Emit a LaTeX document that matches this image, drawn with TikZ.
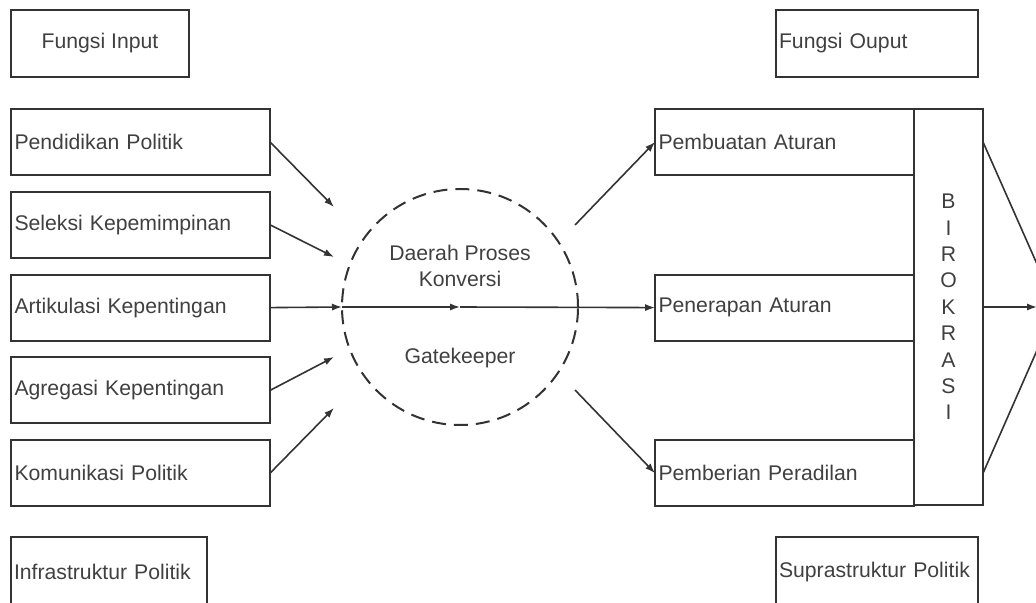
\documentclass[tikz,border=0pt]{standalone}
\usepackage{fontspec}
\setmainfont{Liberation Sans}
\usetikzlibrary{positioning,shapes.geometric,arrows.meta,calc}

\begin{document}
\begin{tikzpicture}[
	x=0.5pt, y=-0.5pt,
	every node/.style={outer sep=0pt, font=\fontsize{10.6}{13}\selectfont, text=black!75},
	item/.style={rectangle, draw=black!80, line width=1pt, text width=126pt,
		inner xsep=1.75pt, align=left, minimum height=33pt},
	head/.style={rectangle, draw=black!80, line width=1pt, minimum height=33.5pt},
	gate/.style={circle, draw=black!80, line width=1pt, dash pattern=on 7pt off 4pt,
		minimum size=118pt},
	arrow/.style={-{Latex[length=5pt,width=3.6pt]}, line width=0.8pt, draw=black!80},
	line/.style={line width=0.8pt, draw=black!80}
	]
	\useasboundingbox (0,0) rectangle (1036,603);
	% header boxes
	\node[head, minimum width=89pt, anchor=north west] (fin) at (11,10) {Fungsi Input};
	\node[head, text width=98pt, inner xsep=1.5pt, align=left, anchor=north west] (fout) at (776,10) {Fungsi Ouput};
	\node[head, text width=95pt, inner xsep=1.5pt, align=left, anchor=north west, minimum height=35pt] (infra) at (11,537) {Infrastruktur Politik};
	\node[head, text width=98pt, inner xsep=1.5pt, align=left, anchor=north west, minimum height=35pt] (supra) at (776,537) {Suprastruktur Politik};
	% input functions
	\node[item, anchor=north west] (pend) at (11,109) {Pendidikan Politik};
	\node[item, below=8.4pt of pend] (sel) {Seleksi Kepemimpinan};
	\node[item, below=8.4pt of sel] (art) {Artikulasi Kepentingan};
	\node[item, below=8.4pt of art] (agr) {Agregasi Kepentingan};
	\node[item, below=8.4pt of agr] (kom) {Komunikasi Politik};
	% output functions
	\node[item, anchor=north west] (buat) at (655,109) {Pembuatan Aturan};
	\node[item, anchor=west] (pen) at (art.west -| buat.west) {Penerapan Aturan};
	\node[item, anchor=west] (beri) at (kom.west -| buat.west) {Pemberian Peradilan};
	\node[rectangle, draw=black!80, line width=1pt, anchor=north west,
		minimum width=34.5pt, minimum height=198pt, align=center,
		font=\fontsize{10.6}{13.2}\selectfont] (biro) at (buat.north east)
		{B\\I\\R\\O\\K\\R\\A\\S\\I};
	% conversion area
	\node[gate] (gk) at (460,307) {};
	\node[align=center] (konv) at (460,266) {Daerah Proses\\Konversi};
	\node (keeper) at (460,358) {Gatekeeper};
	\coordinate (in1) at (334,207);
	\coordinate (in2) at (334,257);
	\coordinate (in4) at (334,357);
	\coordinate (in5) at (334,408);
	\coordinate (out1) at (575,225);
	\coordinate (out3) at (575,390);
	\coordinate (sink) at (1056,307);
	\coordinate (sinkmid) at (1037,307);
	\draw[arrow] (pend.east) -- (in1);
	\draw[arrow] (sel.east) -- (in2);
	\draw[arrow] (art.east) -- (gk.west);
	\draw[arrow] (gk.west) -- (gk.center);
	\draw[arrow] (gk.center) -- (pen.west);
	\draw[arrow] (agr.east) -- (in4);
	\draw[arrow] (kom.east) -- (in5);
	\draw[arrow] (out1) -- (buat.west);
	\draw[arrow] (out3) -- (beri.west);
	\draw[line] (buat.east -| biro.east) -- (sink);
	\draw[arrow] (biro.east) -- (sinkmid);
	\draw[line] (beri.east -| biro.east) -- (sink);
\end{tikzpicture}
\end{document}
